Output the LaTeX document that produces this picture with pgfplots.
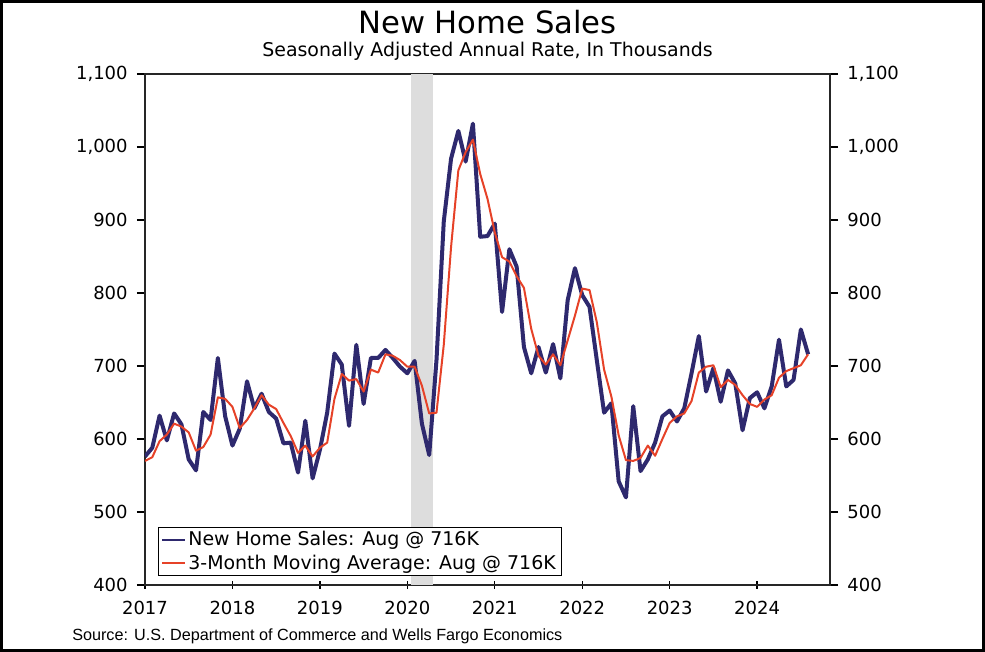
\documentclass[border=0pt]{standalone}
\usepackage{pgfplots}
\usepackage{pgfplotstable}
\pgfplotsset{compat=1.18}
\usepackage{fontspec}
\setmainfont{DejaVu Sans}
\newfontfamily\srcfont{Liberation Sans}
\definecolor{nhsblue}{RGB}{46,41,110}
\definecolor{nhsred}{RGB}{230,66,40}
\definecolor{recgray}{RGB}{221,221,221}

\pgfplotstableread{
m nhs avg
0 576 570
1 588 575
2 632 597
3 598 606
4 635 621
5 620 617
6 572 609
7 557 584
8 637 589
9 626 606
10 711 657
11 631 655
12 591 644
13 614 615
14 679 626
15 642 642
16 662 660
17 637 647
18 628 641
19 594 622
20 595 604
21 554 581
22 625 591
23 546 576
24 585 588
25 636 595
26 717 655
27 702 689
28 618 680
29 729 682
30 648 665
31 711 695
32 711 691
33 722 716
34 711 714
35 699 708
36 690 699
37 707 699
38 621 673
39 578 635
40 708 636
41 898 729
42 984 863
43 1022 968
44 980 993
45 1032 1010
46 877 963
47 878 929
48 895 883
49 774 849
50 860 843
51 836 823
52 726 807
53 690 751
54 726 714
55 691 702
56 730 716
57 683 701
58 790 735
59 834 769
60 797 806
61 781 804
62 708 760
63 636 695
64 649 658
65 542 605
66 520 571
67 645 570
68 556 574
69 572 591
70 595 577
71 631 600
72 639 622
73 624 631
74 642 635
75 690 652
76 741 691
77 665 699
78 697 701
79 651 671
80 694 681
81 676 674
82 612 660
83 656 648
84 664 644
85 642 654
86 672 660
87 736 684
88 672 693
89 681 697
90 750 701
91 716 716
}\nhsdata

\begin{document}
\begin{tikzpicture}
\begin{axis}[
  name=ax,
  scale only axis,
  width=513.75pt, height=383.25pt,
  xmin=0, xmax=94, ymin=400, ymax=1100,
  xtick={0,12,24,36,48,60,72,84},
  xticklabels={2017,2018,2019,2020,2021,2022,2023,2024},
  ytick={400,500,600,700,800,900,1000,1100},
  xtick pos=bottom,
  ytick pos=both,
  tick align=outside,
  major tick length=6pt,
  xtick style={yshift=3pt},
  tick style={line width=1pt, black},
  minor tick num=0,
  axis line style={line width=1.2pt, black!85},
  /pgf/number format/assume math mode=true,
  /pgf/number format/1000 sep={,},
  ticklabel style={font=\fontsize{13.5}{16}\selectfont, text=black},
  yticklabel style={xshift=-3.5pt},
  xticklabel style={yshift=-2.5pt},
  legend style={at={(0.019,0.0176)}, anchor=south west, draw=black, line width=0.6pt,
    font=\fontsize{14.2}{17}\selectfont, inner xsep=2pt, inner ysep=1pt,
    row sep=1.5pt, fill=white},
  legend cell align=left,
  legend image code/.code={\draw[#1, line width=1.5pt] (-1pt,0pt) -- (16pt,0pt);},
]
\addplot[draw=none, fill=recgray, forget plot] coordinates {(36.5,400) (36.5,1100) (39.5,1100) (39.5,400)} -- cycle;
\addplot[nhsblue, line width=3pt, line join=round] table[x=m, y=nhs] {\nhsdata};
\addlegendentry{New Home Sales: Aug @ 716K}
\addplot[nhsred, line width=1.5pt, line join=round] table[x=m, y=avg] {\nhsdata};
\addlegendentry{3-Month Moving Average: Aug @ 716K}
\end{axis}
\begin{axis}[
  scale only axis,
  width=513.75pt, height=383.25pt,
  xmin=0, xmax=94, ymin=400, ymax=1100,
  hide x axis,
  axis y line*=right,
  y axis line style={draw=none},
  ytick={400,500,600,700,800,900,1000,1100},
  tick align=outside,
  major tick length=6pt,
  ytick style={draw=none},
  /pgf/number format/assume math mode=true,
  /pgf/number format/1000 sep={,},
  yticklabel style={font=\fontsize{13.5}{16}\selectfont, text=black, xshift=3.5pt},
]
\addplot[draw=none] coordinates {(0,400)};
\end{axis}
\node[font=\fontsize{23}{26}\selectfont, anchor=base] at ([yshift=30.5pt]ax.north) {New Home Sales};
\node[font=\fontsize{14.2}{16}\selectfont, anchor=base] at ([yshift=13pt]ax.north) {Seasonally Adjusted Annual Rate, In Thousands};
\node[font=\srcfont\fontsize{12.15}{14}\selectfont, anchor=base west, inner sep=0pt] at ([xshift=-54.75pt,yshift=-42pt]ax.south west) {Source: U.S. Department of Commerce and Wells Fargo Economics};
\draw[line width=2.25pt] ([xshift=-107.625pt,yshift=-49.125pt]ax.south west) rectangle ([xshift=115.125pt,yshift=54.375pt]ax.north east);
\end{tikzpicture}
\end{document}
